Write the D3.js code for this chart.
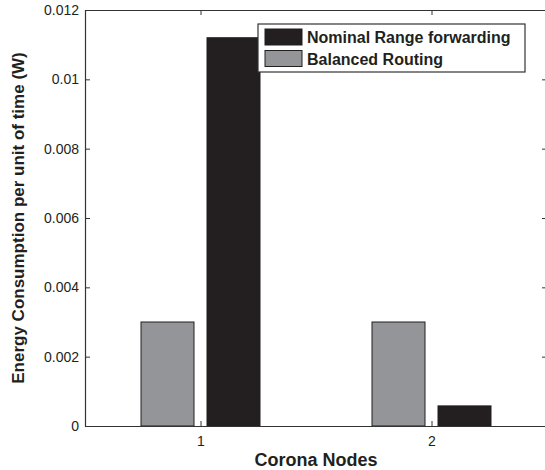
<!DOCTYPE html>
<html>
<head>
<meta charset="utf-8">
<script src="https://cdn.jsdelivr.net/npm/d3@7"></script>
<style>
  body { margin: 0; background: #fff; }
  text { font-family: "Liberation Sans", Arial, sans-serif; }
</style>
</head>
<body>
<script>
// data
const nodes = [1, 2];
const seriesNames = ["Balanced Routing", "Nominal Range forwarding"];
const balanced = [0.0030, 0.0030];
const nominal = [0.0112, 0.00058];
const yTicks = [0, 0.002, 0.004, 0.006, 0.008, 0.01, 0.012];
const legendOrder = ["Nominal Range forwarding", "Balanced Routing"];
const colors = {"Balanced Routing": "#939598", "Nominal Range forwarding": "#231f20"};

const width = 545, height = 470;
const margin = {top: 10, right: -2, bottom: 44, left: 85};
const axisColor = "#333";

let svg = d3.select("body").append("svg")
    .attr("width", width)
    .attr("height", height);

let xScale = d3.scaleLinear()
    .domain([0.5, 2.5])
    .range([margin.left, width - margin.right]);

let yScale = d3.scaleLinear()
    .domain([0, 0.012])
    .range([height - margin.bottom, margin.top]);

const x0 = xScale.range()[0], x1 = xScale.range()[1];
const y0 = yScale.range()[0], y1 = yScale.range()[1];

// bars, two per node
const barW = 53, offset = 33;
let rows = [];
nodes.forEach((n, i) => {
    rows.push({node: n, name: seriesNames[0], value: balanced[i], dx: -offset});
    rows.push({node: n, name: seriesNames[1], value: nominal[i], dx: offset});
});

svg.selectAll(".bar")
    .data(rows)
    .join("rect")
    .attr("class", "bar")
    .attr("x", d => xScale(d.node) + d.dx - barW / 2)
    .attr("y", d => yScale(d.value))
    .attr("width", barW)
    .attr("height", d => yScale(0) - yScale(d.value))
    .attr("fill", d => colors[d.name])
    .attr("stroke", "#231f20")
    .attr("stroke-width", 1);

//Axes, ticks inward (matlab style)
let xAxis = d3.axisBottom(xScale).tickValues(nodes).tickSize(-5).tickSizeOuter(0).tickPadding(10).tickFormat(d3.format("d"));
let yAxis = d3.axisLeft(yScale).tickValues(yTicks).tickSize(-5).tickSizeOuter(0).tickPadding(6).tickFormat(d => d === 0 ? "0" : String(+d.toFixed(3)));

svg.append("g")
    .attr("transform", `translate(0, ${y0})`)
    .call(xAxis);
svg.append("g")
    .attr("transform", `translate(${x0}, 0)`)
    .call(yAxis);

// top and right mirror axes
svg.append("g")
    .attr("transform", `translate(0, ${y1})`)
    .call(d3.axisTop(xScale).tickValues(nodes).tickSize(-5).tickSizeOuter(0).tickFormat(""));
svg.append("g")
    .attr("transform", `translate(${x1}, 0)`)
    .call(d3.axisRight(yScale).tickValues(yTicks).tickSize(-5).tickSizeOuter(0).tickFormat(""));

svg.selectAll(".domain").attr("stroke", axisColor).attr("stroke-width", 1.2);
svg.selectAll(".tick line").attr("stroke", axisColor);
svg.selectAll(".tick text")
    .attr("fill", "#231f20")
    .style("font-size", "14px")
    .style("font-family", "'Liberation Sans', Arial, sans-serif");

// axis titles
svg.append("text")
    .attr("x", (x0 + x1) / 2)
    .attr("y", 466)
    .attr("text-anchor", "middle")
    .attr("fill", "#231f20")
    .style("font-size", "18px")
    .style("font-weight", "bold")
    .text("Corona Nodes");

svg.append("text")
    .attr("transform", `translate(24, ${(y0 + y1) / 2}) rotate(-90)`)
    .attr("text-anchor", "middle")
    .attr("fill", "#231f20")
    .style("font-size", "17px")
    .style("font-weight", "bold")
    .text("Energy Consumption per unit of time (W)");

// legend
let legend = svg.append("g").attr("transform", "translate(258, 24)");
legend.append("rect")
    .attr("width", 267)
    .attr("height", 48)
    .attr("fill", "#fff")
    .attr("stroke", axisColor)
    .attr("stroke-width", 1.2);

let items = legend.selectAll(".item")
    .data(legendOrder)
    .join("g")
    .attr("class", "item")
    .attr("transform", (d, i) => `translate(7, ${5 + i * 21.5})`);

items.append("rect")
    .attr("width", 37)
    .attr("height", 16)
    .attr("fill", d => colors[d])
    .attr("stroke", "#231f20");

items.append("text")
    .attr("x", 42)
    .attr("y", 14)
    .attr("fill", "#231f20")
    .style("font-size", "16px")
    .style("font-weight", "bold")
    .text(d => d);
</script>
</body>
</html>
